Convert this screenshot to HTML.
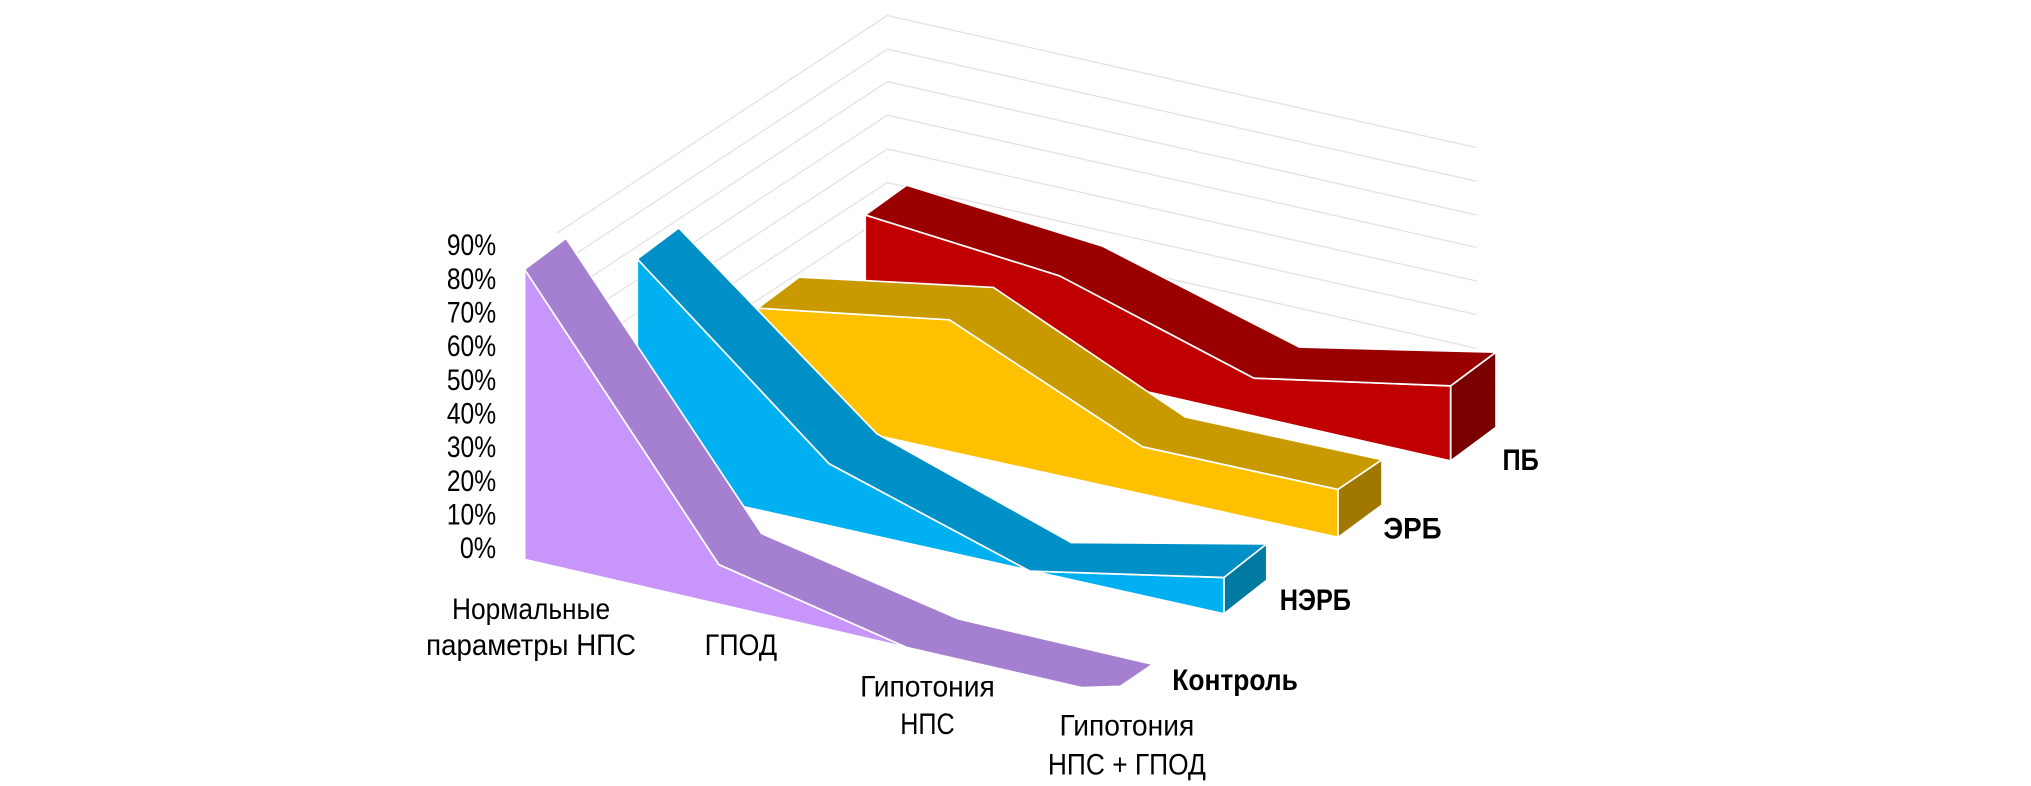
<!DOCTYPE html>
<html><head><meta charset="utf-8"><style>
html,body{margin:0;padding:0;background:#fff;}
svg{display:block;}
text{font-family:"Liberation Sans","DejaVu Sans",sans-serif;fill:#000;}
</style></head><body>
<svg width="2031" height="786" viewBox="0 0 1568 607" preserveAspectRatio="none">
<g stroke="#e2e2e2" stroke-width="1" fill="none">
<path d="M430,180 L685,12 L1140,114"/>
<path d="M440,199 L685,38 L1140,140"/>
<path d="M450,218 L685,63 L1140,166"/>
<path d="M460,237 L685,89 L1140,191"/>
<path d="M470,256 L685,115 L1140,217"/>
<path d="M480,275 L685,141 L1140,243"/>
<path d="M490,294 L685,166 L1140,269"/>
</g>
<g stroke="#fff" stroke-width="1.3" stroke-linejoin="round">
<polygon fill="#c00000" points="668,166 818,213 968,292 1120,298 1120,356 668,253"/>
<polygon fill="#9a0000" points="668,166 700,143 851,190 1003,268 1155,272 1120,298 968,292 818,213"/>
<polygon fill="#7a0000" points="1120,298 1155,272 1155,330 1120,356"/>
<polygon fill="#ffc000" points="585,238 733,247 882,345 1033,378 1033,415 585,316"/>
<polygon fill="#c99a00" points="585,238 617,214 767,222 915,322 1067,355 1033,378 882,345 733,247"/>
<polygon fill="#a07800" points="1033,378 1067,355 1067,390 1033,415"/>
<polygon fill="#00b0f0" points="492,200 640,358 795,441 945,446 945,474 492,373"/>
<polygon fill="#0090c8" points="492,200 524,176 677,335 827,419 978,420 945,446 795,441 640,358"/>
<polygon fill="#007aa0" points="945,446 978,420 978,448 945,474"/>
<polygon fill="#c896fa" points="405,208 555,436 700,500 405,432"/>
<polygon fill="#a57fd0" points="405,208 437,184 588,412 740,478 890,513 865,530 835,531 700,500 555,436"/>
</g>
<g font-size="23" text-anchor="end">
<text x="383" y="197" textLength="38" lengthAdjust="spacingAndGlyphs">90%</text>
<text x="383" y="223" textLength="38" lengthAdjust="spacingAndGlyphs">80%</text>
<text x="383" y="249" textLength="38" lengthAdjust="spacingAndGlyphs">70%</text>
<text x="383" y="275" textLength="38" lengthAdjust="spacingAndGlyphs">60%</text>
<text x="383" y="301" textLength="38" lengthAdjust="spacingAndGlyphs">50%</text>
<text x="383" y="327" textLength="38" lengthAdjust="spacingAndGlyphs">40%</text>
<text x="383" y="353" textLength="38" lengthAdjust="spacingAndGlyphs">30%</text>
<text x="383" y="379" textLength="38" lengthAdjust="spacingAndGlyphs">20%</text>
<text x="383" y="405" textLength="38" lengthAdjust="spacingAndGlyphs">10%</text>
<text x="383" y="431" textLength="28" lengthAdjust="spacingAndGlyphs">0%</text>
</g>
<g font-size="23" text-anchor="middle">
<text x="410" y="478" textLength="122" lengthAdjust="spacingAndGlyphs">Нормальные</text>
<text x="410" y="506" textLength="162" lengthAdjust="spacingAndGlyphs">параметры НПС</text>
<text x="572" y="506" textLength="56" lengthAdjust="spacingAndGlyphs">ГПОД</text>
<text x="716" y="538" textLength="104" lengthAdjust="spacingAndGlyphs">Гипотония</text>
<text x="716" y="567" textLength="42" lengthAdjust="spacingAndGlyphs">НПС</text>
<text x="870" y="568" textLength="104" lengthAdjust="spacingAndGlyphs">Гипотония</text>
<text x="870" y="598" textLength="122" lengthAdjust="spacingAndGlyphs">НПС + ГПОД</text>
</g>
<g font-size="23" font-weight="bold">
<text x="1160" y="363" textLength="28" lengthAdjust="spacingAndGlyphs">ПБ</text>
<text x="1068" y="416" textLength="45" lengthAdjust="spacingAndGlyphs">ЭРБ</text>
<text x="988" y="471" textLength="55" lengthAdjust="spacingAndGlyphs">НЭРБ</text>
<text x="905" y="533" textLength="97" lengthAdjust="spacingAndGlyphs">Контроль</text>
</g>
</svg>
</body></html>
